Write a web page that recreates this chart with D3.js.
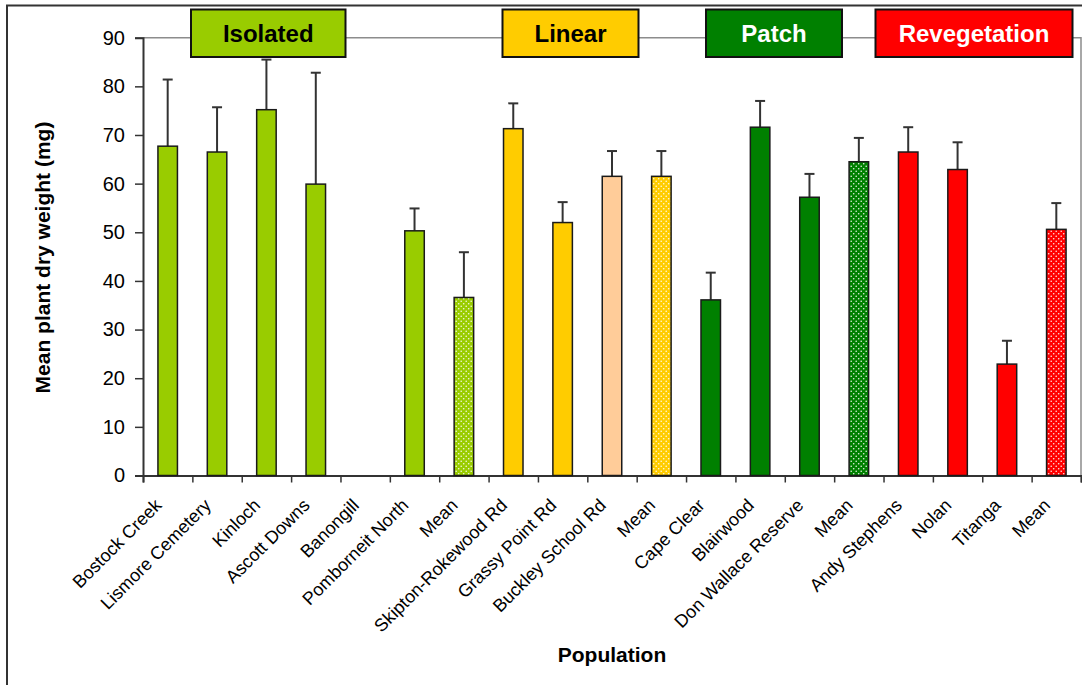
<!DOCTYPE html>
<html>
<head>
<meta charset="utf-8">
<script src="https://cdn.jsdelivr.net/npm/d3@7"></script>
<style>
  html, body { margin: 0; padding: 0; background: #fff; }
  svg { display: block; font-family: "Liberation Sans", Arial, sans-serif; }
</style>
</head>
<body>
<svg id="chart" width="1082" height="685"></svg>
<script>
// Population names along the x axis
const categories = [
  "Bostock Creek", "Lismore Cemetery", "Kinloch", "Ascott Downs", "Banongill",
  "Pomborneit North", "Mean",
  "Skipton-Rokewood Rd", "Grassy Point Rd", "Buckley School Rd", "Mean",
  "Cape Clear", "Blairwood", "Don Wallace Reserve", "Mean",
  "Andy Stephens", "Nolan", "Titanga", "Mean"
];
// Habitat group of each population
const groups = [
  "Isolated", "Isolated", "Isolated", "Isolated", "Isolated", "Isolated", "Isolated",
  "Linear", "Linear", "Linear", "Linear",
  "Patch", "Patch", "Patch", "Patch",
  "Revegetation", "Revegetation", "Revegetation", "Revegetation"
];
// Mean plant dry weight (mg)
const meanWeight = [
  67.7, 66.5, 75.2, 59.9, 0, 50.3, 36.6,
  71.3, 52.0, 61.5, 61.5,
  36.1, 71.6, 57.2, 64.5,
  66.5, 62.9, 22.9, 50.6
];
// Standard error (upper bar only)
const stdError = [
  13.7, 9.2, 10.3, 22.9, null, 4.6, 9.3,
  5.2, 4.2, 5.2, 5.2,
  5.6, 5.4, 4.8, 4.9,
  5.1, 5.6, 4.8, 5.4
];
// Bars drawn with a dotted fill (group means)
const dotted = [
  false, false, false, false, false, false, true,
  false, false, false, true,
  false, false, false, true,
  false, false, false, true
];
// Legend / group headers
const groupNames = ["Isolated", "Linear", "Patch", "Revegetation"];
const groupColors = ["#99cc00", "#ffcc00", "#008000", "#ff0000"];
const groupTextColors = ["#000000", "#000000", "#ffffff", "#ffffff"];
const specialColors = { "Buckley School Rd": "#ffcc99" };
const yTicks = [0, 10, 20, 30, 40, 50, 60, 70, 80, 90];

const svg = d3.select("#chart");
const margin = { left: 143, right: 1081, top: 37.7, bottom: 475.5 };

const colorOf = d3.scaleOrdinal().domain(groupNames).range(groupColors);

// band positions of the categories
const x = d3.scaleBand()
  .domain(d3.range(categories.length))
  .range([margin.left, margin.right])
  .paddingInner(0)
  .paddingOuter(0);
const xCenter = i => x(i) + x.bandwidth() / 2;
const barW = x.bandwidth() * 0.395;

const y = d3.scaleLinear().domain([0, 90]).range([margin.bottom, margin.top]);

// outer frame
svg.append("rect")
  .attr("x", 7).attr("y", 5.5).attr("width", 1100).attr("height", 700)
  .attr("fill", "none").attr("stroke", "#333").attr("stroke-width", 2);

// dotted fill patterns, one per colour
const defs = svg.append("defs");
groupNames.forEach((g, k) => {
  const p = defs.append("pattern")
    .attr("id", "dots-" + k)
    .attr("patternUnits", "userSpaceOnUse")
    .attr("width", 5).attr("height", 5);
  p.append("rect").attr("width", 5).attr("height", 5).attr("fill", groupColors[k]);
  p.append("circle").attr("cx", 1.2).attr("cy", 1.2).attr("r", 0.8).attr("fill", "#ffffff").attr("opacity", 0.9);
  p.append("circle").attr("cx", 3.7).attr("cy", 3.7).attr("r", 0.8).attr("fill", "#ffffff").attr("opacity", 0.9);
});

// plot area top and right border
svg.append("path")
  .attr("d", `M${margin.left},${y(90)}H${margin.right}V${margin.bottom}`)
  .attr("fill", "none").attr("stroke", "#8c8c8c").attr("stroke-width", 1.5);

// y axis
const yAxis = d3.axisLeft(y).tickValues(yTicks).tickSize(8).tickPadding(10);
const gy = svg.append("g").attr("transform", `translate(${margin.left},0)`).call(yAxis);
gy.select(".domain").attr("stroke", "#333").attr("stroke-width", 2);
gy.selectAll(".tick line").attr("stroke", "#333").attr("stroke-width", 1.5);
gy.selectAll(".tick text").attr("font-size", 20).attr("fill", "#000")
  .attr("font-family", "'Liberation Sans', Arial, sans-serif");

// x axis: baseline and ticks between categories
const xAxisScale = d3.scaleLinear().domain([0, categories.length]).range([margin.left, margin.right]);
const gx = svg.append("g").attr("transform", `translate(0,${margin.bottom})`)
  .call(d3.axisBottom(xAxisScale).tickValues(d3.range(categories.length + 1)).tickSize(7).tickFormat(""));
gx.select(".domain").attr("stroke", "#333").attr("stroke-width", 2);
gx.selectAll(".tick line").attr("stroke", "#333").attr("stroke-width", 1.5);

// bars
const data = categories.map((c, i) => ({
  i, name: c, group: groups[i], value: meanWeight[i], se: stdError[i], dotted: dotted[i]
}));

const fillOf = d => {
  if (d.dotted) return `url(#dots-${groupNames.indexOf(d.group)})`;
  return specialColors[d.name] || colorOf(d.group);
};

// error bars (upper only)
const err = svg.append("g");
data.filter(d => d.se != null).forEach(d => {
  const cx = xCenter(d.i);
  err.append("line")
    .attr("x1", cx).attr("x2", cx)
    .attr("y1", y(d.value)).attr("y2", y(d.value + d.se))
    .attr("stroke", "#333").attr("stroke-width", 2);
  err.append("line")
    .attr("x1", cx - 5).attr("x2", cx + 5)
    .attr("y1", y(d.value + d.se)).attr("y2", y(d.value + d.se))
    .attr("stroke", "#333").attr("stroke-width", 2);
});

svg.append("g").selectAll("rect")
  .data(data.filter(d => d.value > 0))
  .join("rect")
  .attr("x", d => xCenter(d.i) - barW / 2)
  .attr("width", barW)
  .attr("y", d => y(d.value))
  .attr("height", d => y(0) - y(d.value))
  .attr("fill", fillOf)
  .attr("stroke", "#1a1a1a").attr("stroke-width", 1.5);

// category labels
svg.append("g").selectAll("text")
  .data(data)
  .join("text")
  .attr("transform", d => `translate(${xCenter(d.i) - 5},${margin.bottom + 31}) rotate(-45)`)
  .attr("text-anchor", "end")
  .attr("font-size", 18)
  .attr("fill", "#000")
  .text(d => d.name);

// axis titles
svg.append("text")
  .attr("transform", `translate(50,${(118 + 397) / 2}) rotate(-90)`)
  .attr("text-anchor", "middle")
  .attr("font-size", 21).attr("font-weight", "bold")
  .text("Mean plant dry weight (mg)");

svg.append("text")
  .attr("x", 612).attr("y", 662)
  .attr("text-anchor", "middle")
  .attr("font-size", 21).attr("font-weight", "bold")
  .text("Population");

// group header boxes
const boxes = [
  { x0: 191, x1: 345.5 },
  { x0: 502.5, x1: 638.5 },
  { x0: 706, x1: 842 },
  { x0: 875.5, x1: 1072.5 }
];
const legend = svg.append("g");
groupNames.forEach((g, k) => {
  const b = boxes[k];
  legend.append("rect")
    .attr("x", b.x0).attr("y", 9.5).attr("width", b.x1 - b.x0).attr("height", 47.5)
    .attr("fill", groupColors[k]).attr("stroke", "#111").attr("stroke-width", 2);
  legend.append("text")
    .attr("x", (b.x0 + b.x1) / 2).attr("y", 42)
    .attr("text-anchor", "middle")
    .attr("font-size", 24).attr("font-weight", "bold")
    .attr("fill", groupTextColors[k])
    .text(g);
});
</script>
</body>
</html>
